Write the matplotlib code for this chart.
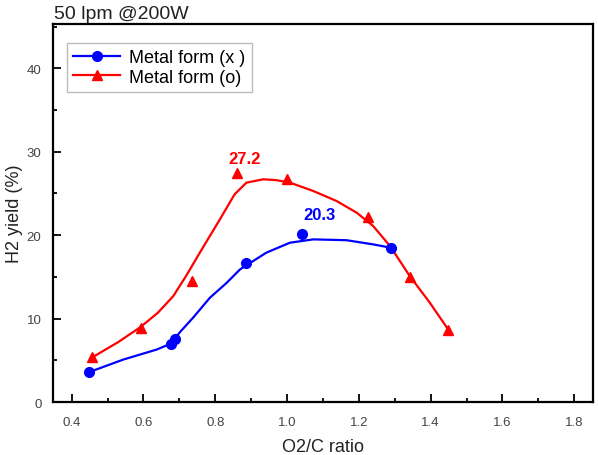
import matplotlib.pyplot as plt
from matplotlib.ticker import MultipleLocator

plt.rcParams['font.family'] = ['Liberation Sans', 'DejaVu Sans']

# measured points
x_metal_x = [0.449, 0.676, 0.688, 0.885, 1.043, 1.289]
y_metal_x = [3.6, 7.0, 7.6, 16.7, 20.1, 18.5]
x_metal_o = [0.457, 0.592, 0.734, 0.861, 1.000, 1.226, 1.342, 1.449]
y_metal_o = [5.35, 8.9, 14.5, 27.4, 26.7, 22.2, 15.0, 8.6]

# smoothed curves
cx_metal_x = [0.449, 0.544, 0.637, 0.676, 0.702, 0.740, 0.785, 0.832, 0.869,
              0.942, 1.008, 1.073, 1.166, 1.240, 1.289]
cy_metal_x = [3.6, 5.1, 6.3, 7.0, 8.4, 10.2, 12.5, 14.3, 15.9,
              17.9, 19.1, 19.5, 19.4, 18.9, 18.5]
cx_metal_o = [0.457, 0.530, 0.592, 0.640, 0.683, 0.720, 0.757, 0.813, 0.854, 0.887, 0.934,
              0.970, 1.008, 1.073, 1.138, 1.194, 1.240, 1.287, 1.342, 1.398, 1.449]
cy_metal_o = [5.35, 7.2, 9.0, 10.7, 12.7, 15.2, 17.9, 21.9, 24.9, 26.3, 26.7,
              26.6, 26.3, 25.3, 24.1, 22.7, 21.1, 18.7, 15.1, 11.9, 8.7]

fig = plt.figure(figsize=(5.98, 4.56), dpi=100)
ax = fig.add_axes([0.088, 0.116, 0.904, 0.829])

ax.plot(cx_metal_x, cy_metal_x, color='blue', lw=1.6)
ax.plot(cx_metal_o, cy_metal_o, color='red', lw=1.6)
ax.plot(x_metal_x, y_metal_x, 'o', color='blue', ms=7, ls='none')
ax.plot(x_metal_o, y_metal_o, '^', color='red', ms=6.5, ls='none')

# legend proxies
ax.plot([], [], '-o', color='blue', lw=1.6, ms=7, label='Metal form (x )')
ax.plot([], [], '-^', color='red', lw=1.6, ms=6.5, label='Metal form (o)')

ax.text(0.882, 29.2, '27.2', color='red', fontsize=12, fontweight='bold', ha='center', va='center')
ax.text(1.09, 22.5, '20.3', color='blue', fontsize=12, fontweight='bold', ha='center', va='center')

ax.set_xlim(0.347, 1.853)
ax.set_ylim(0, 45.3)
ax.xaxis.set_major_locator(MultipleLocator(0.2))
ax.xaxis.set_minor_locator(MultipleLocator(0.1))
ax.yaxis.set_major_locator(MultipleLocator(10))
ax.yaxis.set_minor_locator(MultipleLocator(5))
ax.tick_params(which='both', direction='in', top=False, right=False,
               labelsize=9.5, labelcolor='#444444', width=1.3)
ax.tick_params(which='major', length=6)
ax.tick_params(axis='x', which='major', pad=10)
ax.tick_params(axis='y', which='major', pad=8)
ax.tick_params(which='minor', length=3)
ax.set_xticks([0.4, 0.6, 0.8, 1.0, 1.2, 1.4, 1.6, 1.8])
ax.set_xticklabels(['0.4', '0.6', '0.8', '1.0', '1.2', '1.4', '1.6', '1.8'])
for s in ax.spines.values():
    s.set_linewidth(1.6)

ax.set_xlabel('O2/C ratio', fontsize=13, color='#222222')
ax.xaxis.set_label_coords(0.5, -0.095)
ax.set_ylabel('H2 yield (%)', fontsize=13, color='#222222')
ax.yaxis.set_label_coords(-0.054, 0.5)
ax.text(0.003, 1.006, '50 lpm @200W', transform=ax.transAxes, fontsize=14,
        color='#222222', ha='left', va='bottom')

leg = ax.legend(loc='upper left', bbox_to_anchor=(0.01, 0.975), fontsize=13,
                frameon=True, fancybox=False, edgecolor='#aaaaaa', handlelength=2.6,
                borderpad=0.35, labelspacing=0.15, handletextpad=0.5)
leg.get_frame().set_linewidth(1.0)

fig.savefig('out.png', dpi=100)
